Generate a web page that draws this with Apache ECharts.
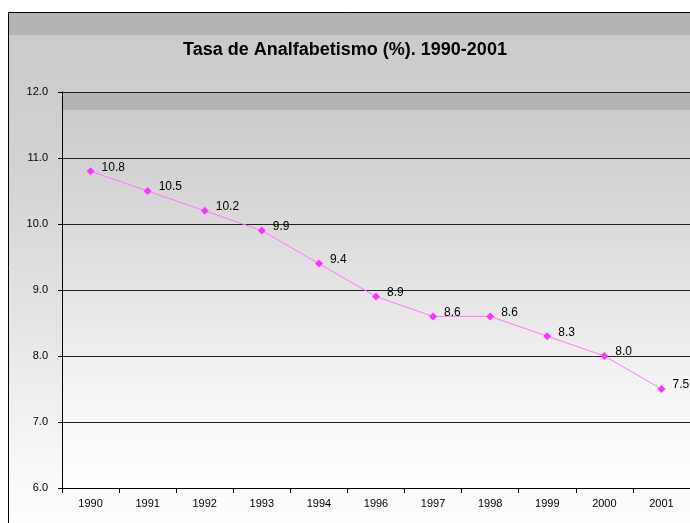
<!DOCTYPE html>
<html><head><meta charset="utf-8">
<script src="https://cdn.jsdelivr.net/npm/echarts@6/dist/echarts.min.js"></script>
<style>html,body{margin:0;padding:0;background:#fff}#c{width:690px;height:523px}</style>
</head><body><div id="c"></div>
<script>
const categories = ['1990','1991','1992','1993','1994','1996','1997','1998','1999','2000','2001'];
const values = [10.8,10.5,10.2,9.9,9.4,8.9,8.6,8.6,8.3,8.0,7.5];
const titleText = 'Tasa de Analfabetismo (%). 1990-2001';

const chart = echarts.init(document.getElementById('c'));
chart.setOption({
  animation:false,
  backgroundColor:'#ffffff',
  graphic:[{
    type:'rect', left:8, top:12, z:-10,
    shape:{width:700, height:530},
    style:{
      fill:{type:'linear',x:0,y:0,x2:0,y2:1,colorStops:[
        {offset:0,color:'#b4b4b4'},{offset:0.043,color:'#b4b4b4'},
        {offset:0.044,color:'#cbcbcb'},{offset:0.3,color:'#d3d3d3'},
        {offset:0.6,color:'#e6e6e6'},{offset:0.85,color:'#f8f8f8'},{offset:1,color:'#ffffff'}]},
      stroke:'#000', lineWidth:1
    }
  }],
  title:{text:titleText,left:'center',top:36,
    textStyle:{fontFamily:'Liberation Sans, Arial',fontSize:18,fontWeight:'bold',color:'#000'}},
  grid:{left:62,top:92,width:634,height:396,show:true,borderWidth:0,
    backgroundColor:{type:'linear',x:0,y:0,x2:0,y2:1,colorStops:[
      {offset:0,color:'#b4b4b4'},{offset:0.045,color:'#b4b4b4'},
      {offset:0.046,color:'#cbcbcb'},{offset:0.3,color:'#d8d8d8'},
      {offset:0.55,color:'#e8e8e8'},{offset:0.8,color:'#f7f7f7'},{offset:1,color:'#ffffff'}]}},
  xAxis:{type:'category',data:categories,boundaryGap:true,
    axisLine:{lineStyle:{color:'#000',width:1}},
    axisTick:{show:true,length:5,inside:false,lineStyle:{color:'#000'}},
    axisLabel:{fontFamily:'Liberation Sans, Arial',fontSize:11,color:'#000',margin:10},
    splitLine:{show:false}},
  yAxis:{type:'value',min:6,max:12,interval:1,
    axisLine:{show:true,lineStyle:{color:'#000',width:1}},
    axisTick:{show:true,length:4,lineStyle:{color:'#000'}},
    axisLabel:{fontFamily:'Liberation Sans, Arial',fontSize:11,color:'#000',margin:14,
      formatter:v=>v.toFixed(1)},
    splitLine:{show:true,lineStyle:{color:'#222',width:1}}},
  series:[{
    type:'line',data:values,
    symbol:'diamond',symbolSize:8,
    itemStyle:{color:'#ff33ff'},
    lineStyle:{color:'#ff77ff',width:1},
    label:{show:true,position:'right',offset:[2,-4],
      formatter:p=>p.value.toFixed(1),
      fontFamily:'Liberation Sans, Arial',fontSize:12,color:'#000'}
  }]
});
</script></body></html>
